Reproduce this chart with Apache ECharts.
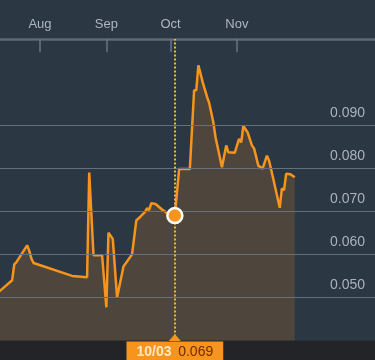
<!DOCTYPE html>
<html><head><meta charset="utf-8">
<script src="https://cdn.jsdelivr.net/npm/echarts@6/dist/echarts.min.js"></script>
<style>html,body{margin:0;padding:0;background:#2c3744}#c{width:375px;height:360px}</style>
</head><body><div id="c"></div>
<script>
const dates = ['2015-07-13','2015-07-19','2015-07-20','2015-07-21','2015-07-26','2015-07-27','2015-07-28','2015-07-29',
'2015-08-16','2015-08-23','2015-08-24','2015-08-26','2015-08-30','2015-09-01','2015-09-02','2015-09-04','2015-09-06',
'2015-09-09','2015-09-13','2015-09-15','2015-09-17','2015-09-19','2015-09-20','2015-09-21','2015-09-22','2015-09-24',
'2015-09-27','2015-09-30','2015-10-03','2015-10-05','2015-10-10','2015-10-12','2015-10-13','2015-10-14','2015-10-16',
'2015-10-18','2015-10-19','2015-10-21','2015-10-22','2015-10-25','2015-10-27','2015-10-28','2015-10-31','2015-11-02',
'2015-11-03','2015-11-04','2015-11-06','2015-11-08','2015-11-09','2015-11-11','2015-11-13','2015-11-15','2015-11-16',
'2015-11-18','2015-11-21','2015-11-22','2015-11-23','2015-11-24','2015-11-26','2015-11-28'];
const prices = [0.0514,0.0540,0.0577,0.0582,0.0621,0.0608,0.0590,0.0580,
0.0550,0.0547,0.0790,0.0598,0.0598,0.0477,0.0650,0.0636,0.0500,
0.0572,0.0600,0.0679,0.0688,0.0698,0.0707,0.0703,0.0719,0.0717,
0.0704,0.0694,0.0690,0.0798,0.0798,0.0981,0.0981,0.1039,0.1000,
0.0966,0.0952,0.0906,0.0872,0.0802,0.0853,0.0837,0.0836,0.0868,
0.0860,0.0898,0.0883,0.0853,0.0846,0.0806,0.0799,0.0829,0.0818,
0.0775,0.0708,0.0753,0.0749,0.0787,0.0786,0.0779];
const monthTicks = ['2015-08-01','2015-09-01','2015-10-01','2015-11-01'];
const monthLabels = ['Aug','Sep','Oct','Nov'];
const yTicks = [0.05,0.06,0.07,0.08,0.09];
const focusDate = '2015-10-03';

function ts(s){const p=s.split('-').map(Number);return Date.UTC(p[0],p[1]-1,p[2]);}
const DAY = 86400000;
const xMin = ts('2015-08-01') - 18.68*DAY;
const xMax = ts('2015-08-01') + 156.5*DAY;
const tickTs = monthTicks.map(ts);
const data = dates.map((d,i)=>[ts(d), prices[i]]);
const focusIdx = dates.indexOf(focusDate);
const focusVal = prices[focusIdx];
const fp = focusDate.split('-');
const focusText = '{d|' + fp[1] + '/' + fp[2] + '}  {v|' + focusVal.toFixed(3) + '}';
const FONT = '"Liberation Sans", Arial, sans-serif';
const ORANGE = '#f7941d';

const chart = echarts.init(document.getElementById('c'), null, {renderer:'canvas'});
chart.setOption({
  animation:false,
  backgroundColor:'#2c3744',
  textStyle:{fontFamily:FONT},
  grid:{left:0,right:0,top:39,bottom:19.5,containLabel:false},
  graphic:[{type:'rect',z:0,silent:true,shape:{x:0,y:340.5,width:375,height:20},style:{fill:'#232427'}}],
  xAxis:{type:'value',position:'top',min:xMin,max:xMax,
    axisLine:{show:true,lineStyle:{color:'#5d6975',width:2.5}},
    axisTick:{show:true,inside:true,length:13,customValues:tickTs,lineStyle:{color:'#6a7581',width:1.5}},
    axisLabel:{show:true,customValues:tickTs,color:'#aeb6bf',fontSize:13,fontFamily:FONT,margin:8,
      formatter:function(v){const i=tickTs.indexOf(v);return i>=0?monthLabels[i]:'';}},
    splitLine:{show:false}},
  yAxis:{type:'value',position:'right',min:0.04,max:0.11,interval:0.01,
    axisLine:{show:false},axisTick:{show:false},splitLine:{show:false},
    axisLabel:{inside:true,customValues:yTicks,color:'#aab2bc',fontSize:14,fontFamily:FONT,margin:10,
      verticalAlign:'bottom',padding:[0,0,5,0],formatter:function(v){return v.toFixed(3);}}},
  series:[{
    type:'line',data:data,symbol:'none',showSymbol:false,clip:true,z:3,
    lineStyle:{color:ORANGE,width:2.5},
    areaStyle:{color:'rgba(247,148,29,0.24)',origin:'start'},
    markLine:{silent:true,symbol:['none','none'],animation:false,
      data:yTicks.map(v=>({yAxis:v,lineStyle:{color:'#66707b',width:1,type:'solid'},label:{show:false}})).concat([
        {xAxis:ts(focusDate),lineStyle:{color:'#f2b443',width:2,type:[2,2]},
         label:{show:true,position:'start',distance:1,formatter:focusText,backgroundColor:ORANGE,
           padding:[4,10,4,10],fontFamily:FONT,
           rich:{d:{color:'#fde8c6',fontSize:14,fontWeight:'bold',fontFamily:FONT},
                 v:{color:'#6a2e00',fontSize:14,fontFamily:FONT}}}}])},
    markPoint:{silent:true,animation:false,label:{show:false},
      data:[
        {coord:[ts(focusDate),0.04],symbol:'triangle',symbolSize:[12,7],symbolOffset:[0,-3],itemStyle:{color:ORANGE}},
        {coord:[ts(focusDate),focusVal],symbol:'circle',symbolSize:15,itemStyle:{color:ORANGE,borderColor:'#ffffff',borderWidth:2.5}}
      ]}
  }]
});
</script></body></html>
